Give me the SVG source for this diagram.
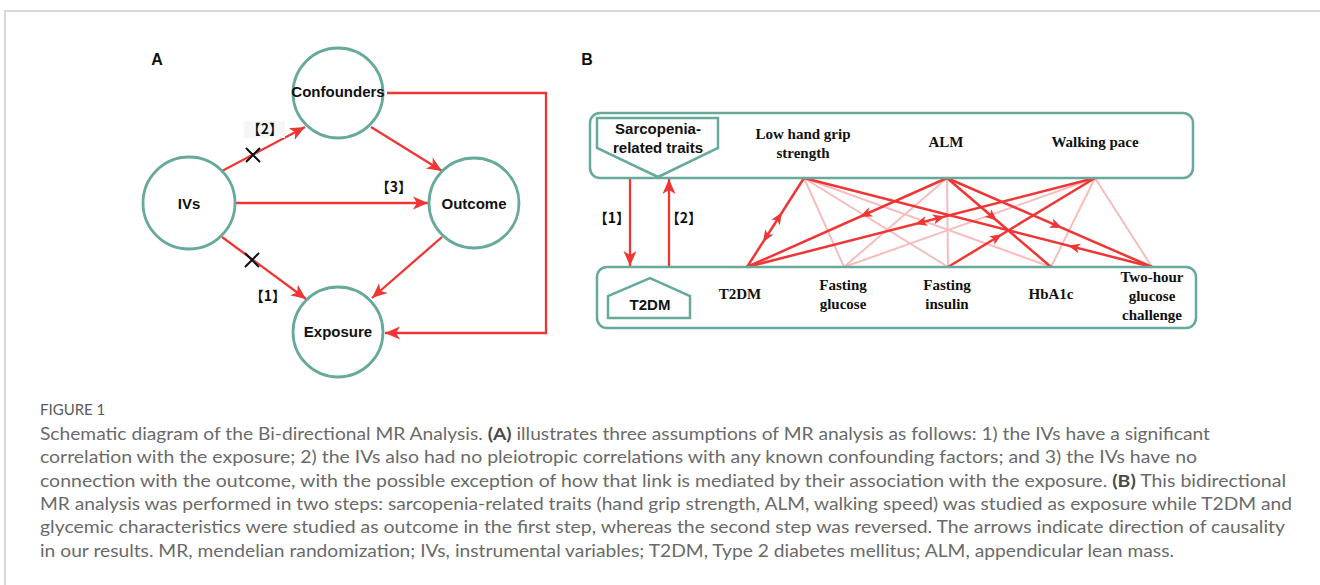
<svg xmlns="http://www.w3.org/2000/svg" width="1320" height="585" viewBox="0 0 1320 585">
<style>
.circ{fill:#fff;stroke:#67a99a;stroke-width:2.8}
.box{fill:#fff;stroke:#67a99a;stroke-width:2.5}
.lbl{font-family:"Liberation Sans",Arial,sans-serif;font-weight:bold;font-size:15px;fill:#111;text-anchor:middle}
.tl{font-family:"Liberation Serif","Times New Roman",serif;font-weight:bold;font-size:15px;fill:#111;text-anchor:middle}
.br{font-family:"Noto Sans CJK SC",sans-serif;font-weight:bold;font-size:14px;fill:#111;text-anchor:middle}
.ra{fill:none;stroke:#f03535;stroke-width:2.3}
.rb{fill:none;stroke:#f03535;stroke-width:2.5}
.pk{fill:none;stroke:#f7bdbd;stroke-width:2}
.ah{fill:none;stroke:none}
.cap{font-family:Lato,"Open Sans",sans-serif;font-weight:normal;font-size:17.5px;fill:#6a6a6a}
.cap tspan.b{font-weight:bold;fill:#4a4a4a}
</style>
<defs>
<marker id="arA" viewBox="-16 -7 17 14" refX="0" refY="0" markerWidth="17" markerHeight="14" markerUnits="userSpaceOnUse" orient="auto"><path d="M0,0 L-15,-6.5 L-11,0 L-15,6.5 Z" fill="#f03535"/></marker>
<marker id="arB" viewBox="-13 -6 14 12" refX="0" refY="0" markerWidth="14" markerHeight="12" markerUnits="userSpaceOnUse" orient="auto"><path d="M0,0 L-12,-5 L-9,0 L-12,5 Z" fill="#f03535"/></marker>
</defs>
<g id="frame"><path d="M5,585 V11 H1320" fill="none" stroke="#cccccc" stroke-width="1.5"/></g>

<g id="panelA-label"><text class="lbl" x="157" y="65" style="font-size:16px">A</text></g>
<g id="panelB-label"><text class="lbl" x="587" y="65" style="font-size:16px">B</text></g>

<g id="connectors">
<!-- Panel A -->
<path class="ra" d="M222,171 L305,127" marker-end="url(#arA)"/>
<path class="ra" d="M371,127 L442,171" marker-end="url(#arA)"/>
<path class="ra" d="M235,203 L428,203" marker-end="url(#arA)"/>
<path class="ra" d="M222,237 L306,299" marker-end="url(#arA)"/>
<path class="ra" d="M442,237 L372,298" marker-end="url(#arA)"/>
<path class="ra" d="M387,93 H546 V333 H385" marker-end="url(#arA)"/>
<path d="M246,148 L260,162 M260,148 L246,162 M245,253 L259,267 M259,253 L245,267" stroke="#111" stroke-width="2" fill="none"/>
<rect x="244" y="121" width="41" height="17" fill="#f6f6f6"/>
<text class="br" x="265" y="134">【2】</text>
<text class="br" x="394" y="192">【3】</text>
<text class="br" x="268" y="301">【1】</text>
<!-- Panel B vertical -->
<path class="ra" d="M630,178 L630,266" marker-end="url(#arA)"/>
<path class="ra" d="M669,267 L669,179" marker-end="url(#arA)"/>
<text class="br" x="612" y="223">【1】</text>
<text class="br" x="684" y="223">【2】</text>
<!-- Panel B pink -->
<path class="pk" d="M804,178 L844,267 M804,178 L948,267 M804,178 L1051,267 M947,178 L844,267 M947,178 L948,267 M1095,178 L844,267 M1095,178 L1051,267 M1095,178 L1152,267"/>
<!-- Panel B bold -->
<path class="rb" d="M747,267 L804,178"/>
<path class="rb" d="M947,178 L747,267"/>
<path class="rb" d="M747,267 L1095,178"/>
<path class="rb" d="M947,178 L1051,267"/>
<path class="rb" d="M948,267 L1095,178"/>
<path class="rb" d="M947,178 L1152,267"/>
<path class="rb" d="M1152,267 L804,178"/>
<!-- arrowheads -->
<path class="ah" d="M747,267 L782,212.4" marker-end="url(#arB)"/>
<path class="ah" d="M804,178 L763,242" marker-end="url(#arB)"/>
<path class="ah" d="M947,178 L860,216.7" marker-end="url(#arB)"/>
<path class="ah" d="M1095,178 L915,224" marker-end="url(#arB)"/>
<path class="ah" d="M747,267 L945,216.4" marker-end="url(#arB)"/>
<path class="ah" d="M947,178 L997,220.8" marker-end="url(#arB)"/>
<path class="ah" d="M948,267 L1002,234.3" marker-end="url(#arB)"/>
<path class="ah" d="M947,178 L1062,227.9" marker-end="url(#arB)"/>
<path class="ah" d="M1152,267 L1068,245.5" marker-end="url(#arB)"/>
</g>

<g id="confounders"><circle class="circ" cx="338" cy="93" r="45"/><text class="lbl" x="338" y="97">Confounders</text></g>
<g id="ivs"><circle class="circ" cx="189" cy="203" r="46"/><text class="lbl" x="189" y="209">IVs</text></g>
<g id="outcome"><circle class="circ" cx="474" cy="203" r="45"/><text class="lbl" x="474" y="209">Outcome</text></g>
<g id="exposure"><circle class="circ" cx="338" cy="332" r="45"/><text class="lbl" x="338" y="337">Exposure</text></g>

<g id="sarcopenia-box">
<rect class="box" x="590" y="113" width="603" height="65" rx="10" style="fill:none"/>
<polygon class="box" points="597,118 718,118 718,148 658,177 597,148"/>
<text class="lbl" x="658" y="134">Sarcopenia-</text>
<text class="lbl" x="658" y="153">related traits</text>
</g>
<g id="grip"><text class="tl" x="803" y="139">Low hand grip</text><text class="tl" x="803" y="158">strength</text></g>
<g id="alm"><text class="tl" x="946" y="147">ALM</text></g>
<g id="walking"><text class="tl" x="1095" y="147">Walking pace</text></g>

<g id="t2dm-box">
<rect class="box" x="597" y="267" width="599" height="61" rx="10" style="fill:none"/>
<polygon class="box" points="608,318 608,296 650,278 690,296 690,318"/>
<text class="lbl" x="650" y="310">T2DM</text>
</g>
<g id="t2dm"><text class="tl" x="740" y="299">T2DM</text></g>
<g id="fglucose"><text class="tl" x="843" y="290">Fasting</text><text class="tl" x="843" y="309">glucose</text></g>
<g id="finsulin"><text class="tl" x="947" y="290">Fasting</text><text class="tl" x="947" y="309">insulin</text></g>
<g id="hba1c"><text class="tl" x="1051" y="299">HbA1c</text></g>
<g id="twohour"><text class="tl" x="1152" y="282">Two-hour</text><text class="tl" x="1152" y="301">glucose</text><text class="tl" x="1152" y="320">challenge</text></g>

<g id="caption">
<text class="cap" x="40" y="415" style="font-size:15px;fill:#5a5a5a">FIGURE 1</text>
<text class="cap" x="40" y="440" textLength="1170" lengthAdjust="spacingAndGlyphs">Schematic diagram of the Bi-directional MR Analysis. <tspan class="b">(A)</tspan> illustrates three assumptions of MR analysis as follows: 1) the IVs have a significant</text>
<text class="cap" x="40" y="463.3" textLength="1157" lengthAdjust="spacingAndGlyphs">correlation with the exposure; 2) the IVs also had no pleiotropic correlations with any known confounding factors; and 3) the IVs have no</text>
<text class="cap" x="40" y="486.6" textLength="1246" lengthAdjust="spacingAndGlyphs">connection with the outcome, with the possible exception of how that link is mediated by their association with the exposure. <tspan class="b">(B)</tspan> This bidirectional</text>
<text class="cap" x="40" y="510" textLength="1252" lengthAdjust="spacingAndGlyphs">MR analysis was performed in two steps: sarcopenia-related traits (hand grip strength, ALM, walking speed) was studied as exposure while T2DM and</text>
<text class="cap" x="40" y="533.3" textLength="1245" lengthAdjust="spacingAndGlyphs">glycemic characteristics were studied as outcome in the first step, whereas the second step was reversed. The arrows indicate direction of causality</text>
<text class="cap" x="40" y="556.6" textLength="1134" lengthAdjust="spacingAndGlyphs">in our results. MR, mendelian randomization; IVs, instrumental variables; T2DM, Type 2 diabetes mellitus; ALM, appendicular lean mass.</text>
</g>
</svg>
